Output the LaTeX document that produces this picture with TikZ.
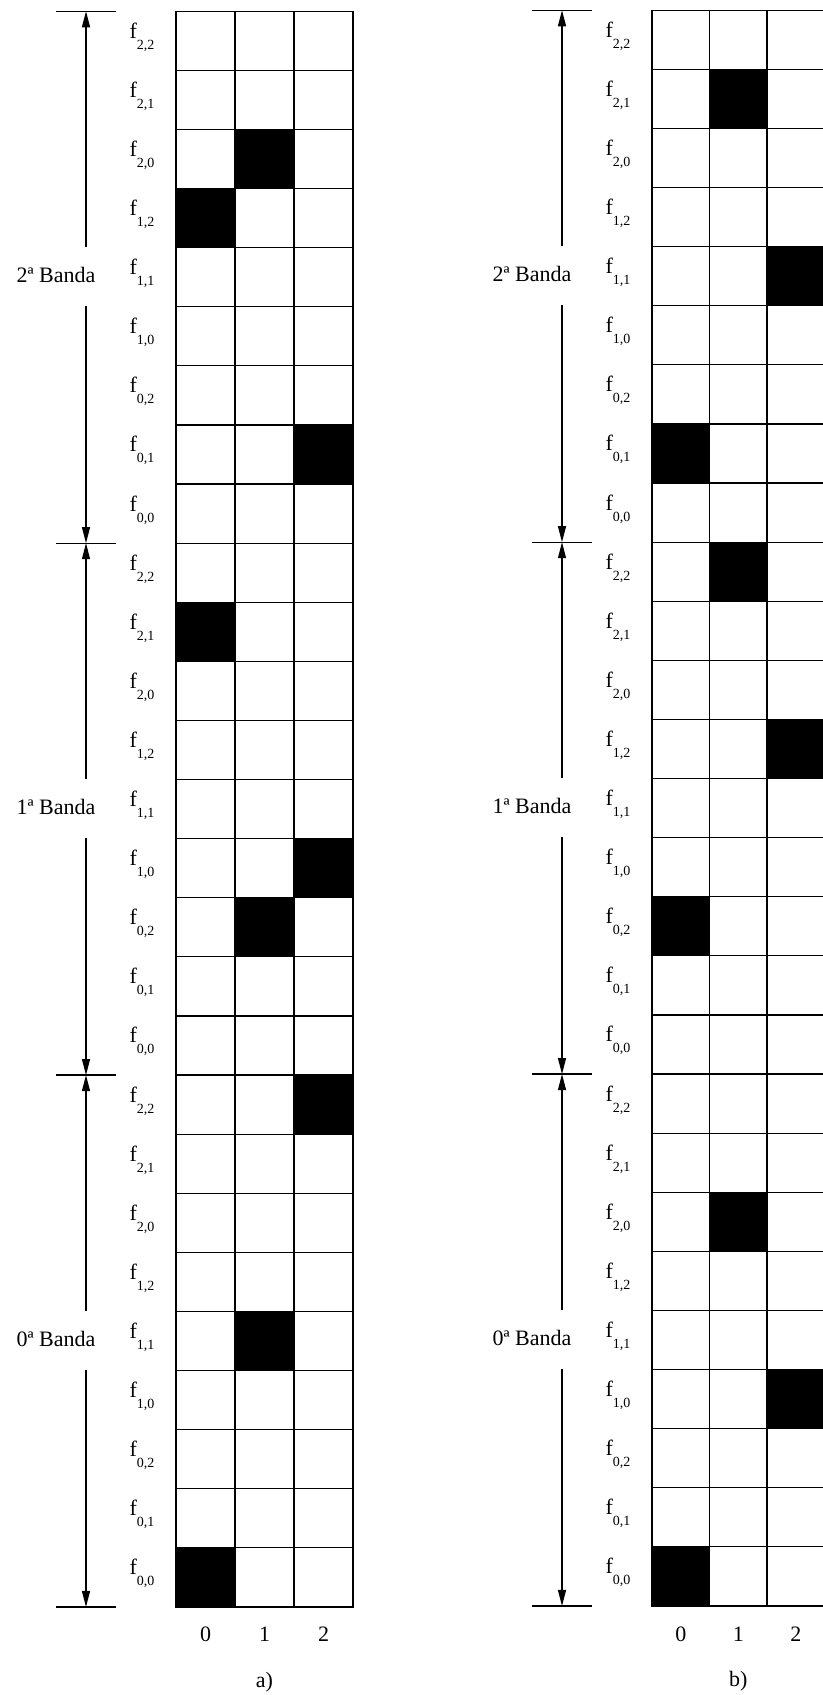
\documentclass[tikz,border=0pt]{standalone}
\usepackage{fontspec}
\setmainfont{Liberation Serif}
\usetikzlibrary{arrows.meta}
\tikzset{
  cellgrid/.style={line width=0.6pt},
  dark/.style={fill=black},
  flab/.style={anchor=base, inner sep=0pt, font=\fontsize{11}{13}\selectfont},
  bandlab/.style={anchor=base, inner sep=0pt, text height=17.5pt, text depth=11.5pt, font=\fontsize{11}{13}\selectfont},
  tick/.style={line width=0.6pt},
  ar/.style={-{Triangle[length=8pt,width=4pt]}, line width=0.6pt},
}
\newcommand\fsub[1]{f\raisebox{-5.5pt}{\fontsize{7}{8}\selectfont #1}}
% #1 panel name, #2 dark cells (column/row from top), #3 caption
\newcommand\drawpanel[3]{%
  \foreach \cc/\rr in {#2}
    \fill[dark] (\cc*\cw,{(26-\rr)*\ch}) rectangle ++(\cw,\ch);
  \foreach \i in {1,2} \draw[cellgrid] (\i*\cw,0) -- (\i*\cw,27*\ch);
  \foreach \j in {1,...,26} \draw[cellgrid] (0,\j*\ch) -- (3*\cw,\j*\ch);
  \draw[cellgrid] (0,0) rectangle (3*\cw,27*\ch);
  % row labels
  \foreach \bd in {0,1,2}
    \foreach \p/\q [count=\k from 0] in {2/2,2/1,2/0,1/2,1/1,1/0,0/2,0/1,0/0}
      \node[flab] (#1f\bd\k) at (-17pt,{(9*\bd+8-\k+0.5)*\ch+1.3pt}) {\fsub{\p,\q}};
  % band limits
  \foreach \n in {0,...,3} {
    \coordinate (#1t\n) at (-45pt,\n*9*\ch);
    \draw[tick] ([xshift=-15pt]#1t\n) -- ([xshift=15pt]#1t\n);
  }
  \foreach \bd/\u in {0/1,1/2,2/3} {
    \node[bandlab] (#1b\bd) at (-60pt,{(9*\bd+4.5)*\ch-2.7pt}) {\bd{}ª Banda};
    \draw[ar] (#1b\bd.north -| #1t\u) -- (#1t\u);
    \draw[ar] (#1b\bd.south -| #1t\bd) -- (#1t\bd);
  }
  % columns
  \foreach \cc in {0,1,2}
    \node[flab] (#1n\cc) at ({(\cc+0.5)*\cw},-17.5pt) {\cc};
  \node[flab] (#1cap) at (1.5*\cw,-40pt) {#3};
}
\begin{document}
\begin{tikzpicture}
\useasboundingbox (0,0) rectangle (411.5pt,847.5pt);
% a)
\def\cw{29.5pt}\def\ch{29.55pt}
\begin{scope}[shift={(88pt,44pt)}]
\drawpanel{a}{1/2,0/3,2/7,0/10,2/14,1/15,2/18,1/22,0/26}{a)}
\end{scope}
% b)
\def\cw{28.75pt}
\begin{scope}[shift={(326pt,44.5pt)}]
\drawpanel{b}{1/1,2/4,0/7,1/9,2/12,0/15,1/20,2/23,0/26}{b)}
\end{scope}
\end{tikzpicture}
\end{document}
